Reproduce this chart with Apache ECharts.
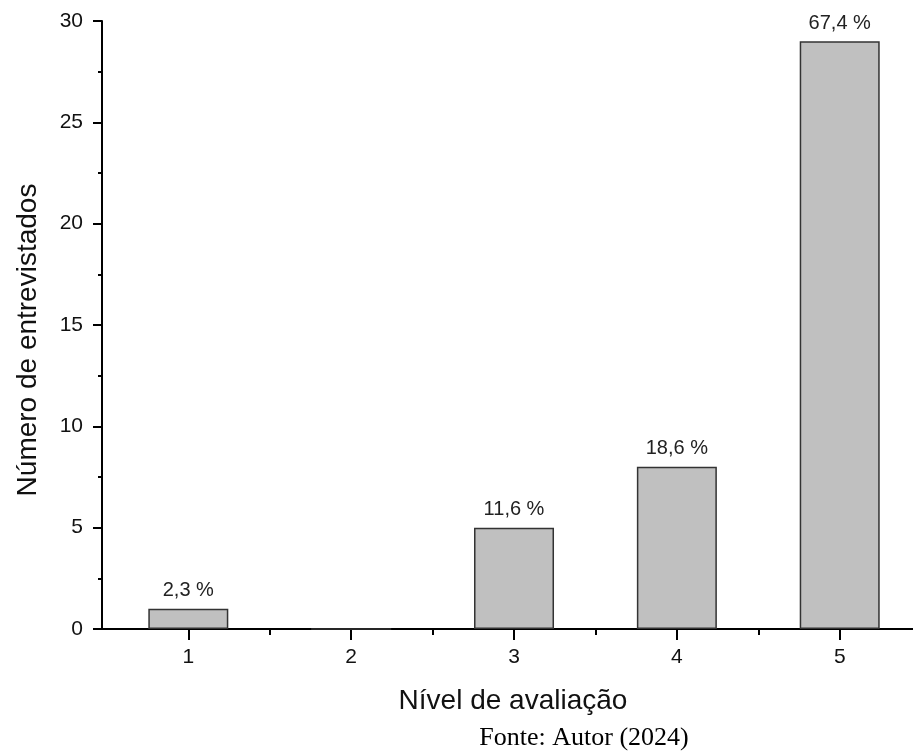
<!DOCTYPE html>
<html>
<head>
<meta charset="utf-8">
<style>html,body{margin:0;padding:0;background:#fff}#c{width:913px;height:755px}</style>
<script src="https://cdn.jsdelivr.net/npm/echarts@6/dist/echarts.min.js"></script>
</head>
<body>
<div id="c"></div>
<script>
const levels = [1, 2, 3, 4, 5];
const counts = [1, 0, 5, 8, 29];
const percentLabels = ['2,3 %', '', '11,6 %', '18,6 %', '67,4 %'];
const minorTickPositions = [1.5, 2.5, 3.5, 4.5];
const xTitle = 'Nível de avaliação';
const yTitle = 'Número de entrevistados';
const sourceNote = 'Fonte: Autor (2024)';

const chart = echarts.init(document.getElementById('c'), null, {renderer: 'canvas'});
const font = 'Liberation Sans, Arial, sans-serif';
chart.setOption({
  animation: false,
  backgroundColor: '#fff',
  grid: {left: 102, top: 21, right: 0, bottom: 126},
  xAxis: [{
    type: 'value', min: 0.47, max: 5.45,
    axisLine: {show: true, onZero: false, lineStyle: {color: '#000', width: 2}},
    axisTick: {show: true, inside: false, length: 11, customValues: levels, lineStyle: {color: '#000', width: 2}},
    axisLabel: {customValues: levels, fontFamily: font, fontSize: 21, color: '#111', margin: 18},
    splitLine: {show: false}
  }, {
    type: 'value', min: 0.47, max: 5.45, position: 'bottom',
    axisLine: {show: false},
    axisTick: {show: true, inside: false, length: 6, customValues: minorTickPositions, lineStyle: {color: '#000', width: 2}},
    axisLabel: {show: false},
    splitLine: {show: false}
  }],
  yAxis: {
    type: 'value', min: 0, max: 30, interval: 5,
    axisLine: {show: true, lineStyle: {color: '#000', width: 2}},
    axisTick: {show: true, inside: false, length: 9, lineStyle: {color: '#000', width: 2}},
    minorTick: {show: true, splitNumber: 2, length: 4, lineStyle: {color: '#000', width: 2}},
    axisLabel: {fontFamily: font, fontSize: 21, color: '#111', margin: 19},
    splitLine: {show: false}
  },
  series: [{
    type: 'bar',
    xAxisIndex: 0,
    barWidth: 80,
    data: levels.map((l, i) => [l, counts[i]]),
    itemStyle: {color: '#c0c0c0', borderColor: '#333', borderWidth: 1.5},
    label: {
      show: true, position: 'top', distance: 8,
      fontFamily: font, fontSize: 20, color: '#222',
      formatter: p => percentLabels[p.dataIndex]
    }
  }],
  graphic: [{
    type: 'text', x: 513, y: 701,
    style: {text: xTitle, font: '28px "Liberation Sans", Arial, sans-serif', fill: '#111', align: 'center', verticalAlign: 'middle'}
  }, {
    type: 'text', x: 28, y: 340, rotation: Math.PI / 2,
    style: {text: yTitle, font: '28px "Liberation Sans", Arial, sans-serif', fill: '#111', align: 'center', verticalAlign: 'middle'}
  }, {
    type: 'text', x: 584, y: 738,
    style: {text: sourceNote, font: '26px "Liberation Serif", "Times New Roman", serif', fill: '#000', align: 'center', verticalAlign: 'middle'}
  }]
});
</script>
</body>
</html>
